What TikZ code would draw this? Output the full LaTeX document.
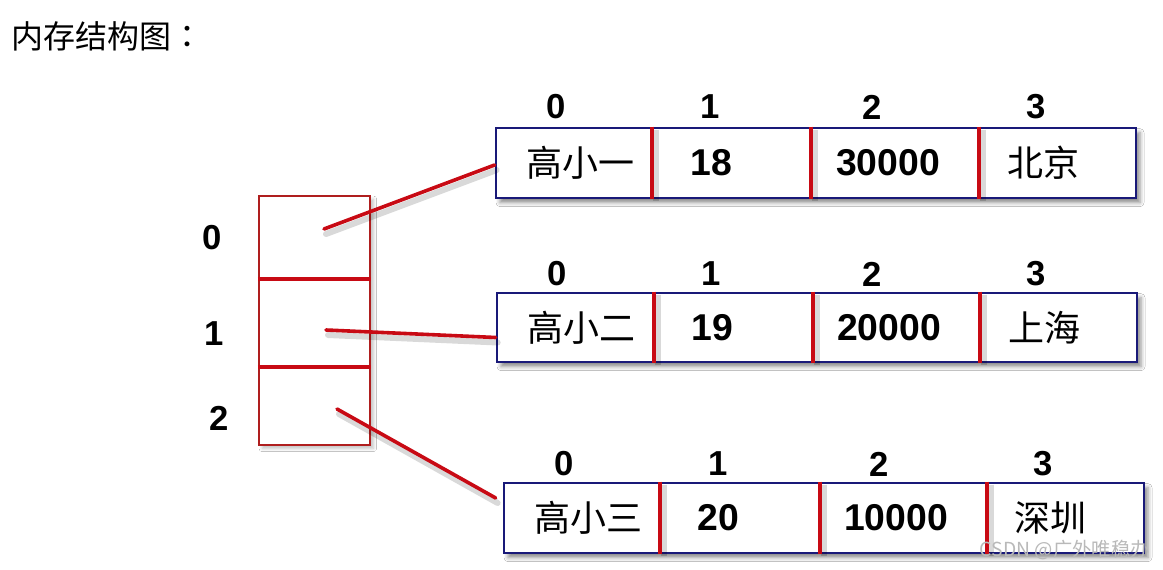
\documentclass[tikz,border=0pt]{standalone}
\usepackage{fontspec}
\setmainfont{Liberation Sans}
\newfontfamily\cjk{Noto Sans CJK SC}
\newfontfamily\cjktc{Noto Sans CJK TC}
\usetikzlibrary{shadows.blur,fit,calc}
\definecolor{navyb}{RGB}{25,25,120}
\definecolor{cellred}{RGB}{200,10,20}
\definecolor{arrred}{RGB}{175,30,30}
\tikzset{
 rowbox/.style={draw=navyb, line width=2pt, fill=white, inner sep=0pt,
   blur shadow={shadow xshift=3pt, shadow yshift=-3.5pt, shadow blur radius=3pt, shadow opacity=45}},
 arrbox/.style={draw=arrred, line width=1.8pt, fill=white, inner sep=0pt,
   blur shadow={shadow xshift=2.5pt, shadow yshift=-2.5pt, shadow blur radius=2.5pt, shadow opacity=25}},
 arrcell/.style={draw=arrred, line width=1.8pt, inner sep=0pt},
 arrdiv/.style={draw=cellred, line width=2.6pt},
 idx/.style={font=\fontsize{26}{26}\selectfont\bfseries, inner sep=0pt},
 val/.style={font=\fontsize{28}{28}\selectfont\bfseries, inner sep=0pt},
 cn/.style={font=\fontsize{27}{27}\selectfont\cjk, inner sep=0pt},
 divline/.style={draw=cellred, line width=3pt},
 divshadow/.style={draw=black, opacity=0.15, line width=4.5pt},
 link/.style={draw=cellred, line width=2.7pt, line cap=round},
 linkshadow/.style={draw=black, opacity=0.15, line width=4.5pt, line cap=round},
 title/.style={font=\fontsize{24}{24}\selectfont\cjk, inner sep=0pt, anchor=west},
 wmark/.style={font=\fontsize{14.5}{14.5}\selectfont\cjk, inner sep=0pt, anchor=east, text=gray!55}
}
\begin{document}
\begin{tikzpicture}[x=0.75pt,y=-0.75pt]
\useasboundingbox[fill=white] (0,0) rectangle (1163,570);

\node[title] (t) at (11,36) {内存结构图\makebox[1em][c]{\cjktc ：}};

% ---------- left array ----------
\node[arrbox, fit={(259,196)(370,445)}] (arr) {};
\node[arrcell, fit={(259,196)(370,278)}] (a0) {};
\node[arrcell, fit={(259,278)(370,366)}] (a1) {};
\node[arrcell, fit={(259,366)(370,445)}] (a2) {};
\draw[arrdiv] (a0.south west) -- (a0.south east);
\draw[arrdiv] (a1.south west) -- (a1.south east);
\node[idx] (l0) at (212,238) {0};
\node[idx] (l1) at (214,334) {1};
\node[idx] (l2) at (219,418) {2};

% ---------- row 1 ----------
\node[rowbox, fit={(496,128)(1136,198)}] (r1) {};
\foreach \x in {652,811,979}{
  \draw[divshadow] ($(\x,0 |- r1.north)+(4,3)$) -- ($(\x,0 |- r1.south)+(4,2)$);
  \draw[divline] (\x,0 |- r1.north) -- (\x,0 |- r1.south);}
\node[idx] (r1i0) at (556,107) {0};
\node[idx] (r1i1) at (710,107) {1};
\node[idx] (r1i2) at (872,107) {2};
\node[idx] (r1i3) at (1036,107) {3};
\node[cn]  (r1c0) at (580,163) {高小一};
\node[val] (r1c1) at (711,163) {18};
\node[val] (r1c2) at (888,163) {30000};
\node[cn]  (r1c3) at (1043,163) {北京};

% ---------- row 2 ----------
\node[rowbox, fit={(497,293)(1137,362)}] (r2) {};
\foreach \x in {654,813,980}{
  \draw[divshadow] ($(\x,0 |- r2.north)+(4,3)$) -- ($(\x,0 |- r2.south)+(4,2)$);
  \draw[divline] (\x,0 |- r2.north) -- (\x,0 |- r2.south);}
\node[idx] (r2i0) at (557,274) {0};
\node[idx] (r2i1) at (711,274) {1};
\node[idx] (r2i2) at (872,274) {2};
\node[idx] (r2i3) at (1036,274) {3};
\node[cn]  (r2c0) at (581,328) {高小二};
\node[val] (r2c1) at (712,328) {19};
\node[val] (r2c2) at (889,328) {20000};
\node[cn]  (r2c3) at (1044,328) {上海};

% ---------- row 3 ----------
\node[rowbox, fit={(504,483)(1144,553)}] (r3) {};
\foreach \x in {660,820,987}{
  \draw[divshadow] ($(\x,0 |- r3.north)+(4,3)$) -- ($(\x,0 |- r3.south)+(4,2)$);
  \draw[divline] (\x,0 |- r3.north) -- (\x,0 |- r3.south);}
\node[idx] (r3i0) at (564,464) {0};
\node[idx] (r3i1) at (718,464) {1};
\node[idx] (r3i2) at (879,464) {2};
\node[idx] (r3i3) at (1043,464) {3};
\node[cn]  (r3c0) at (588,518) {高小三};
\node[val] (r3c1) at (718,518) {20};
\node[val] (r3c2) at (896,518) {10000};
\node[cn]  (r3c3) at (1050,518) {深圳};

% ---------- connectors ----------
\coordinate (s0) at (324,229);
\coordinate (s1) at (326,330);
\coordinate (s2) at (337,409);
\coordinate (e0) at ($(r1.west)+(0,2)$);
\coordinate (e1) at ($(r2.west)+(0,10)$);
\coordinate (e2) at ($(r3.west)+(-7,-20)$);
\draw[linkshadow] ($(s0)+(2,5)$) -- ($(e0)+(2,5)$);
\draw[linkshadow] ($(s1)+(2,5)$) -- ($(e1)+(2,5)$);
\draw[linkshadow] ($(s2)+(2,5)$) -- ($(e2)+(2,5)$);
\draw[link] (s0) -- (e0);
\draw[link] (s1) -- (e1);
\draw[link] (s2) -- (e2);

\node[wmark] (wm) at (1150,550) {CSDN @广外唯稳办};
\end{tikzpicture}
\end{document}
